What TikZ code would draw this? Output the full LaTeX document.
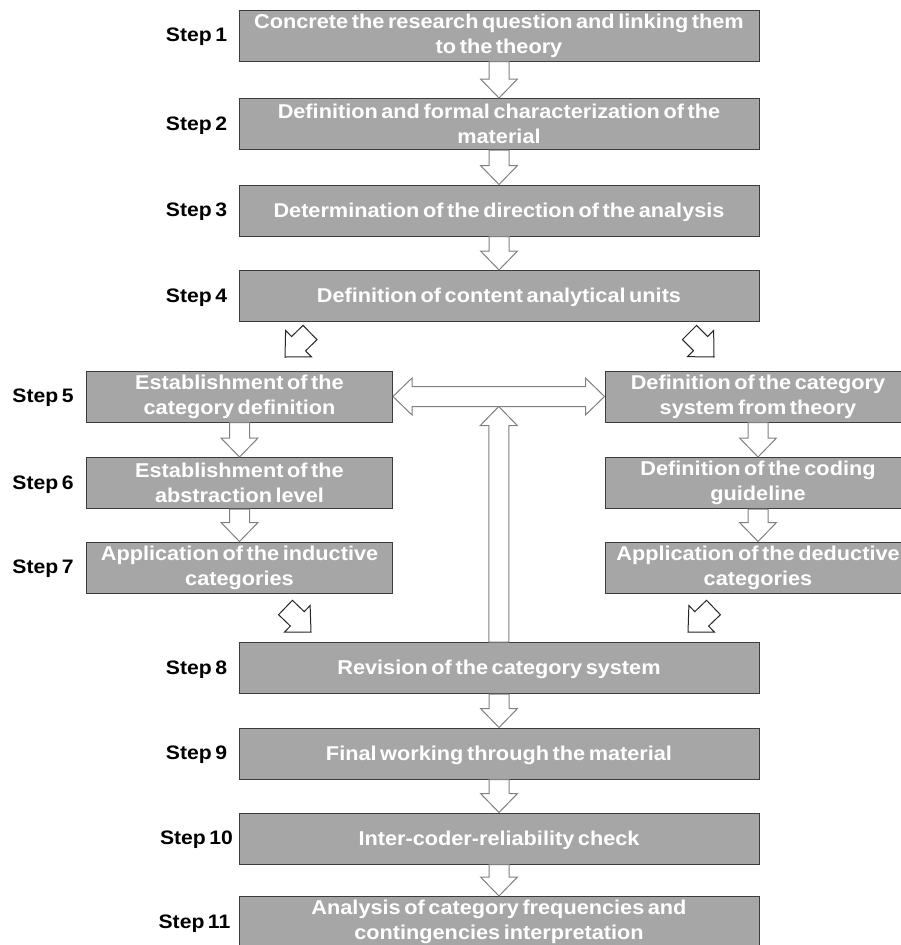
\documentclass[tikz,border=0pt]{standalone}
\usepackage{fontspec}
\setmainfont{Liberation Sans}[FakeStretch=1.085,WordSpace=0.6]
\usetikzlibrary{calc}
\definecolor{boxgray}{RGB}{166,166,166}
\definecolor{edgegray}{RGB}{60,60,60}
\definecolor{arrowgray}{RGB}{128,128,128}
\newcommand\bksw{10pt}
\newcommand\bkhw{18.5pt}
\newcommand\bkhl{19pt}
\tikzset{
  blockarrow/.style={to path={
    ($(\tikztotarget)!\bkhl!(\tikztostart)$) coordinate (bah)
    ($(\tikztostart)!\bksw!90:(\tikztotarget)$)
    -- ($(bah)!\bksw!90:(\tikztotarget)$)
    -- ($(bah)!\bkhw!90:(\tikztotarget)$)
    -- (\tikztotarget)
    -- ($(bah)!\bkhw!-90:(\tikztotarget)$)
    -- ($(bah)!\bksw!-90:(\tikztotarget)$)
    -- ($(\tikztostart)!\bksw!-90:(\tikztotarget)$)
    -- cycle}},
  doublearrow/.style={to path={
    ($(\tikztotarget)!\bkhl!(\tikztostart)$) coordinate (bah)
    ($(\tikztostart)!\bkhl!(\tikztotarget)$) coordinate (bat)
    (\tikztostart)
    -- ($(bat)!\bkhw!90:(\tikztotarget)$)
    -- ($(bat)!\bksw!90:(\tikztotarget)$)
    -- ($(bah)!\bksw!90:(\tikztotarget)$)
    -- ($(bah)!\bkhw!90:(\tikztotarget)$)
    -- (\tikztotarget)
    -- ($(bah)!\bkhw!-90:(\tikztotarget)$)
    -- ($(bah)!\bksw!-90:(\tikztotarget)$)
    -- ($(bat)!\bksw!-90:(\tikztotarget)$)
    -- ($(bat)!\bkhw!-90:(\tikztotarget)$)
    -- cycle}}
}
\begin{document}
\begin{tikzpicture}[x=1pt,y=-1pt,
  box/.style={draw=edgegray, line width=1pt, fill=boxgray, text=white,
    font=\fontsize{20}{25}\selectfont\bfseries, align=center, inner sep=0pt,
    minimum height=51pt},
  mainbox/.style={box, minimum width=520pt},
  oneline/.style={text height=18pt},
  sidebox/.style={box, minimum width=306pt},
  steplabel/.style={font=\fontsize{19.5}{23}\selectfont\bfseries, text=black,
    inner sep=0pt, text height=17pt},
  blk/.style={draw=arrowgray, fill=white, line width=1pt, line join=miter},
  blkdark/.style={blk, draw=black!85}]
\useasboundingbox (0,0) rectangle (901,945);
\clip (0,0) rectangle (901,945);

% boxes
\node[mainbox] (b1) at (499,35.5) {Concrete the research question and linking them\\to the theory};
\node[mainbox] (b2) at (499,124) {Definition and formal characterization of the\\material};
\node[mainbox, oneline] (b3) at (499,210.5) {Determination of the direction of the analysis};
\node[mainbox, oneline] (b4) at (499,296) {Definition of content analytical units};
\node[sidebox] (l5) at (239.5,396.5) {Establishment of the\\category definition};
\node[sidebox] (l6) at (239.5,483) {Establishment of the\\abstraction level};
\node[sidebox] (l7) at (239.5,567.5) {Application of the inductive\\categories};
\node[sidebox] (r5) at (758,396.5) {Definition of the category\\system from theory};
\node[sidebox] (r6) at (758,483) {Definition of the coding\\guideline};
\node[sidebox] (r7) at (758,567.5) {Application of the deductive\\categories};
\node[mainbox, oneline] (b8) at (499,668) {Revision of the category system};
\node[mainbox, oneline] (b9) at (499,753.5) {Final working through the material};
\node[mainbox, oneline] (b10) at (499,838.5) {Inter-coder-reliability check};
\node[mainbox] (b11) at (499,922) {Analysis of category frequencies and\\contingencies interpretation};

% step labels
\node[steplabel] (s1) at (196.5,35.5) {Step 1};
\node[steplabel] (s2) at (196.5,124) {Step 2};
\node[steplabel] (s3) at (196.5,210.5) {Step 3};
\node[steplabel] (s4) at (196.5,296) {Step 4};
\node[steplabel] (s5) at (43,396.5) {Step 5};
\node[steplabel] (s6) at (43,483) {Step 6};
\node[steplabel] (s7) at (43,567.5) {Step 7};
\node[steplabel] (s8) at (196.5,668) {Step 8};
\node[steplabel] (s9) at (196.5,753.5) {Step 9};
\node[steplabel] (s10) at (196.5,838.5) {Step 10};
\node[steplabel] (s11) at (194.5,922) {Step 11};

% vertical block arrows
\draw[blk] (b1.south) to[blockarrow] (b2.north);
\draw[blk] (b2.south) to[blockarrow] (b3.north);
\draw[blk] (b3.south) to[blockarrow] (b4.north);
\draw[blk] (l5.south) to[blockarrow] (l6.north);
\draw[blk] (l6.south) to[blockarrow] (l7.north);
\draw[blk] (r5.south) to[blockarrow] (r6.north);
\draw[blk] (r6.south) to[blockarrow] (r7.north);
\draw[blk] (b8.south) to[blockarrow] (b9.north);
\draw[blk] (b9.south) to[blockarrow] (b10.north);
\draw[blk] (b10.south) to[blockarrow] (b11.north);

% feedback arrow and double arrow
\coordinate (dmid) at ($(l5.east)!0.5!(r5.west)$);
\coordinate (upend) at ($(dmid)+(0,10)$);
\draw[blk] (b8.north -| upend) to[blockarrow] (upend);
\draw[blk] (l5.east) to[doublearrow] (r5.west);

% diagonal arrows
\coordinate (d1s) at (310,332.5);  \coordinate (d1e) at (285,357);
\coordinate (d2s) at (689.5,332.5); \coordinate (d2e) at (714,357);
\coordinate (d3s) at (285.5,607.5); \coordinate (d3e) at (311,632);
\coordinate (d4s) at (713.5,607.5); \coordinate (d4e) at (688,632);
\draw[blkdark] (d1s) to[blockarrow] (d1e);
\draw[blkdark] (d2s) to[blockarrow] (d2e);
\draw[blkdark] (d3s) to[blockarrow] (d3e);
\draw[blkdark] (d4s) to[blockarrow] (d4e);
\end{tikzpicture}
\end{document}
